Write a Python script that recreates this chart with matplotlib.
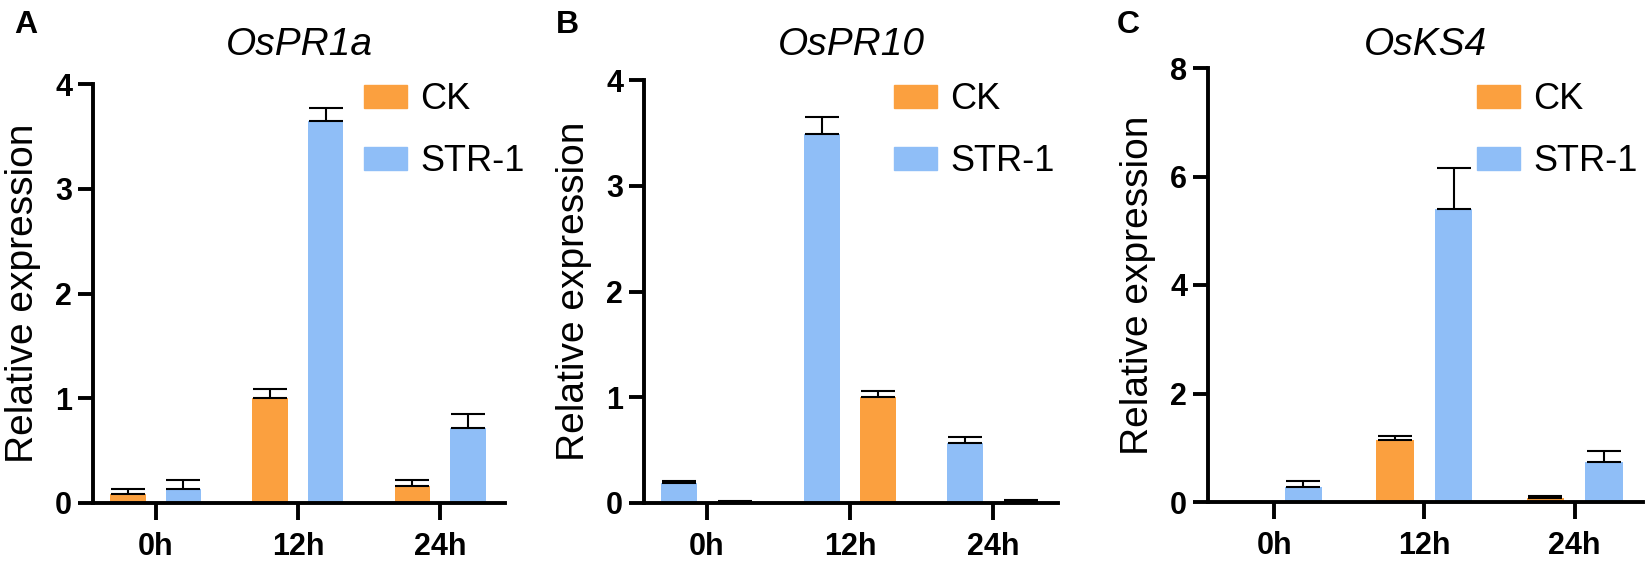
import matplotlib
matplotlib.use("Agg")
import matplotlib.pyplot as plt
import matplotlib.patches as mpatches
import numpy as np

plt.rcParams['font.family'] = ['Liberation Sans', 'DejaVu Sans']

times = ["0h", "12h", "24h"]
genes = ["OsPR1a", "OsPR10", "OsKS4"]
panel_tags = ["A", "B", "C"]

# relative expression (mean, upper error)
ck_mean = [[0.09, 1.00, 0.165], [0.008, 1.00, 0.012], [0.0, 1.14, 0.07]]
ck_err = [[0.047, 0.09, 0.05], [0.014, 0.063, 0.014], [0.0, 0.08, 0.045]]
str_mean = [[0.13, 3.65, 0.72], [0.19, 3.49, 0.566], [0.27, 5.41, 0.74]]
str_err = [[0.09, 0.12, 0.125], [0.022, 0.16, 0.055], [0.12, 0.74, 0.2]]
y_max = [4, 4, 8]
y_step = [1, 1, 2]
# in panel B the STR-1 bar sits on the left
str_first = [False, True, False]

ck_color = "#FBA03F"
str_color = "#8FBEF7"

W, H = 1650, 568
# axes boxes in pixels: left, right, top, bottom
boxes = [(93, 505, 84, 503), (644, 1058, 80, 503), (1208, 1643, 68, 502)]
legend_x = [364, 894, 1477]
tag_x = [14, 556, 1117]

fig = plt.figure(figsize=(W / 100, H / 100), dpi=100)

bw = 0.25
off = 0.195
x = np.arange(len(times))

for i in range(3):
    l, r, t, b = boxes[i]
    ax = fig.add_axes([l / W, 1 - b / H, (r - l) / W, (b - t) / H])
    if str_first[i]:
        xs, xc = x - off, x + off
    else:
        xc, xs = x - off, x + off
    ax.bar(xc, ck_mean[i], bw, color=ck_color, zorder=2)
    ax.bar(xs, str_mean[i], bw, color=str_color, zorder=2)
    ax.errorbar(xc, ck_mean[i], yerr=[np.zeros(3), ck_err[i]], fmt='none',
                ecolor='black', elinewidth=1.5, capsize=12, capthick=1.5, zorder=3)
    ax.errorbar(xs, str_mean[i], yerr=[np.zeros(3), str_err[i]], fmt='none',
                ecolor='black', elinewidth=1.5, capsize=12, capthick=1.5, zorder=3)

    ax.set_xlim(-0.44, 2.455)
    ax.set_ylim(0, y_max[i])
    ax.set_yticks(np.arange(0, y_max[i] + 0.1, y_step[i]))
    ax.set_xticks(x)
    ax.set_xticklabels(times)
    for s in ['top', 'right']:
        ax.spines[s].set_visible(False)
    for s in ['left', 'bottom']:
        ax.spines[s].set_linewidth(2.8)
    ax.tick_params(axis='both', length=11, width=2.8, labelsize=22)
    ax.tick_params(axis='x', length=12, pad=9)
    ax.tick_params(axis='y', pad=4)
    for lab in ax.get_xticklabels() + ax.get_yticklabels():
        lab.set_fontweight('bold')
    ax.set_ylabel("Relative expression", fontsize=28)
    ax.yaxis.set_label_coords(-52 / (r - l), 0.5)

    handles = [mpatches.Patch(color=ck_color, label="CK"),
               mpatches.Patch(color=str_color, label="STR-1")]
    ax.legend(handles=handles, loc='upper left', frameon=False, fontsize=26,
              bbox_to_anchor=(legend_x[i] / W, 1 - 82 / H), bbox_transform=fig.transFigure,
              borderpad=0, borderaxespad=0, handlelength=1.2, handleheight=0.62,
              handletextpad=0.35, labelspacing=0.75)

    fig.text((l + r) / 2 / W, 1 - 45 / H, genes[i], fontsize=28, style='italic',
             ha='center', va='center')
    fig.text(tag_x[i] / W, 1 - 25 / H, panel_tags[i], fontsize=23, fontweight='bold',
             ha='left', va='center')

fig.savefig("out.png", dpi=100)
